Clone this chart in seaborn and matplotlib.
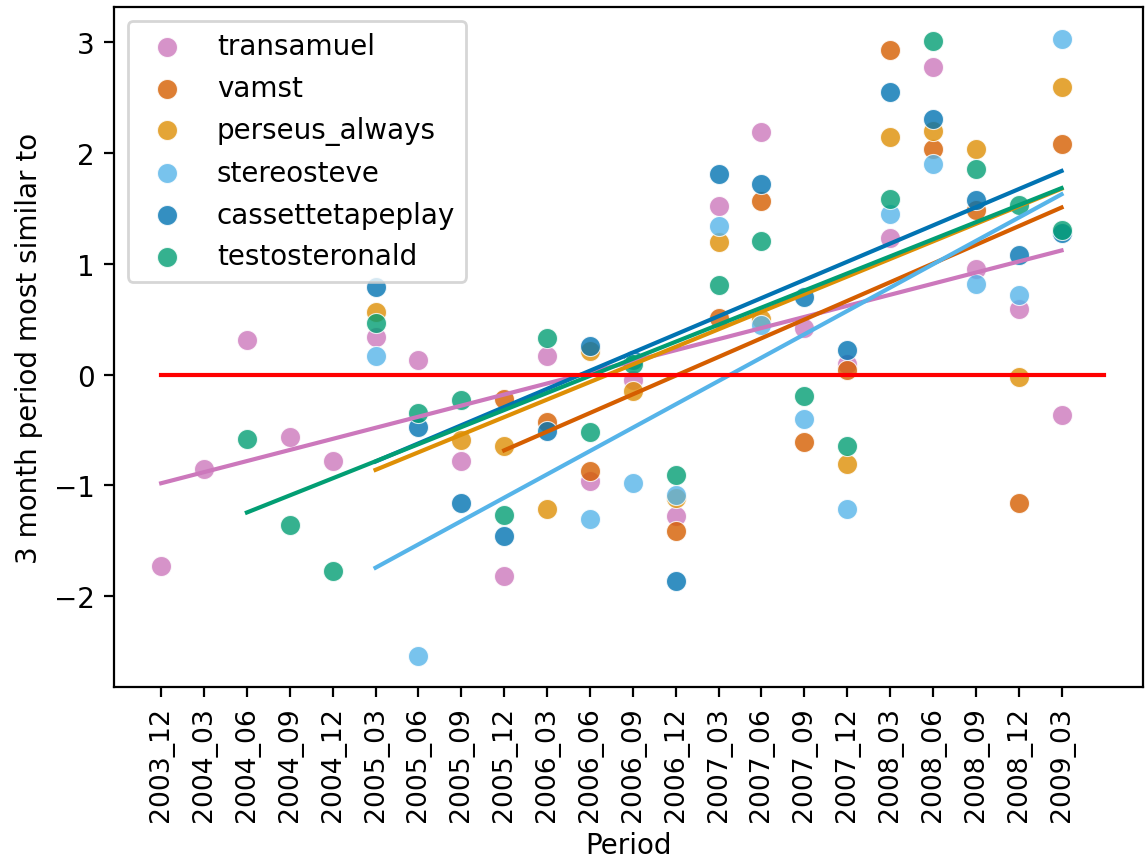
import numpy as np
import pandas as pd
import matplotlib
matplotlib.use("Agg")
import matplotlib.pyplot as plt
import seaborn as sns

periods = ["2003_12", "2004_03", "2004_06", "2004_09", "2004_12", "2005_03", "2005_06",
           "2005_09", "2005_12", "2006_03", "2006_06", "2006_09", "2006_12", "2007_03",
           "2007_06", "2007_09", "2007_12", "2008_03", "2008_06", "2008_09", "2008_12", "2009_03"]

nan = np.nan
transamuel = [-1.73, -0.85, 0.31, -0.56, -0.78, 0.34, 0.13, -0.78, -1.82, 0.17, -0.96,
              -0.05, -1.28, 1.52, 2.19, 0.42, 0.10, 1.23, 2.78, 0.95, 0.59, -0.36]
vamst = [nan, nan, nan, nan, nan, nan, nan, nan, -0.22, -0.43, -0.87,
         nan, -1.41, 0.51, 1.57, -0.61, 0.04, 2.93, 2.04, 1.49, -1.16, 2.08]
perseus_always = [nan, nan, nan, nan, nan, 0.57, nan, -0.59, -0.64, -1.21, 0.21,
                  -0.15, -1.11, 1.20, 0.50, nan, -0.81, 2.15, 2.20, 2.04, -0.02, 2.60]
stereosteve = [nan, nan, nan, nan, nan, 0.17, -2.54, nan, nan, nan, -1.30,
               -0.98, -1.09, 1.34, 0.45, -0.40, -1.21, 1.45, 1.90, 0.82, 0.72, 3.03]
cassettetapeplay = [nan, nan, nan, nan, nan, 0.79, -0.47, -1.16, -1.46, -0.51, 0.26,
                    0.13, -1.86, 1.81, 1.72, 0.70, 0.22, 2.55, 2.31, 1.58, 1.08, 1.28]
testosteronald = [nan, nan, -0.58, -1.355, -1.77, 0.47, -0.35, -0.23, -1.27, 0.33, -0.52,
                  0.10, -0.91, 0.81, 1.21, -0.19, -0.64, 1.59, 3.01, 1.86, 1.53, 1.31]

users = ["transamuel", "vamst", "perseus_always", "stereosteve", "cassettetapeplay", "testosteronald"]
series = [transamuel, vamst, perseus_always, stereosteve, cassettetapeplay, testosteronald]

cb = sns.color_palette("colorblind")
colors = [cb[4], cb[3], cb[1], cb[9], cb[0], cb[2]]

DPI = 200
fig = plt.figure(figsize=(1146 / DPI, 862 / DPI), dpi=DPI)
ax = fig.add_axes([114 / 1146, 1 - 688 / 862, (1143 - 114) / 1146, (688 - 8) / 862])

xidx = np.arange(len(periods))
for name, vals, col in zip(users, series, colors):
    df = pd.DataFrame({"x": xidx, "y": vals}).dropna()
    sns.regplot(data=df, x="x", y="y", ax=ax, ci=None, color=col, label=name,
                scatter_kws={"s": 52, "edgecolors": "white", "linewidths": 0.4},
                line_kws={"lw": 1.5})

ax.plot([0, len(periods)], [0, 0], color="red", lw=1.5, zorder=5)

ax.set_xticks(xidx)
ax.set_xticklabels(periods, rotation=90, fontsize=9.6)
ax.set_xlim(-1.1, 22.9)
ax.set_ylim(-2.82, 3.32)
ax.set_xlabel("Period", labelpad=3.5)
ax.set_ylabel("3 month period most similar to")
ax.legend(loc="upper left")

fig.savefig("out.png", dpi=DPI)
